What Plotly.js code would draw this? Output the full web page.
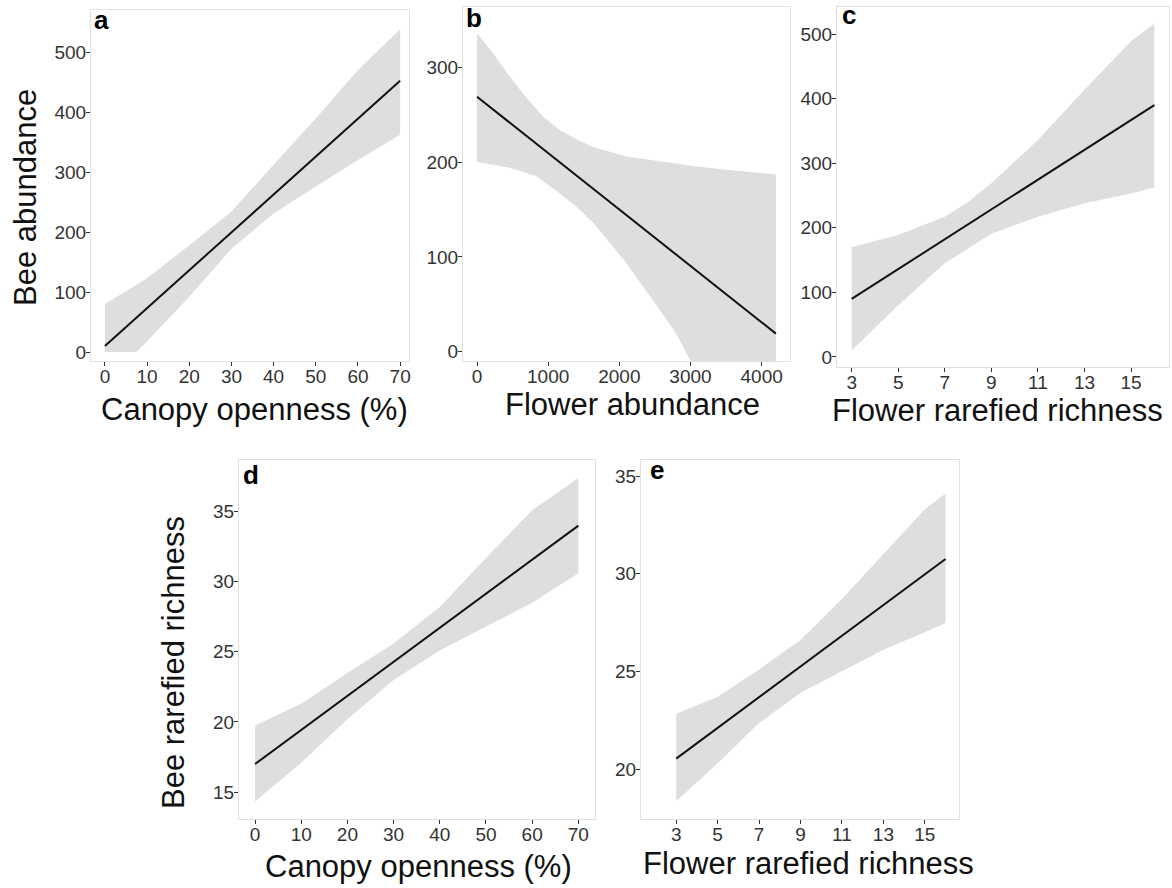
<!DOCTYPE html>
<html>
<head>
<meta charset="utf-8">
<script src="https://cdn.plot.ly/plotly-3.0.1.min.js"></script>
<style>
  html, body { margin: 0; padding: 0; background: #fff; }
  #chart { width: 1172px; height: 888px; }
</style>
</head>
<body>
<div id="chart"></div>
<script>
// Panel a: bee abundance vs canopy openness
const aLineX = [0, 70];
const aLineY = [10, 452];
const aUpperX = [0, 10, 20, 30, 40, 50, 60, 70];
const aUpper = [80, 123, 178, 234, 312, 389, 470, 538];
const aLowerX = [0, 7.5, 10, 20, 30, 40, 50, 60, 70];
const aLower = [0, 0, 18, 92, 172, 231, 276, 320, 362];

// Panel b: bee abundance vs flower abundance
const bLineX = [0, 4200];
const bLineY = [269, 19];
const bUpperX = [0, 225, 460, 695, 928, 1163, 1398, 1632, 2101, 2570, 3038, 3508, 4200];
const bUpper = [336, 315, 290, 268, 248, 234, 224, 216, 206, 201, 196, 192, 187];
const bLowerX = [0, 460, 835, 1163, 1398, 1632, 1867, 2101, 2336, 2570, 2805, 2945, 3500, 4200];
const bLower = [200, 194, 185, 167, 153, 136, 115, 93, 69, 44, 18, -2, -81, -181];

// Panel c: bee abundance vs flower rarefied richness
const cLineX = [3, 16];
const cLineY = [90, 390];
const cUpperX = [3, 5, 7, 8, 9, 11, 13, 15, 16];
const cUpper = [170, 189, 217, 240, 269, 336, 414, 489, 516];
const cLowerX = [3, 5, 7, 9, 11, 13, 15, 16];
const cLower = [10, 80, 145, 191, 217, 238, 253, 263];

// Panel d: bee rarefied richness vs canopy openness
const dLineX = [0, 70];
const dLineY = [17, 34];
const dUpperX = [0, 10, 20, 30, 40, 50, 60, 70];
const dUpper = [19.75, 21.3, 23.5, 25.6, 28.2, 31.7, 35.1, 37.4];
const dLowerX = [0, 10, 20, 30, 40, 50, 60, 70];
const dLower = [14.33, 17.1, 20.2, 23.0, 25.1, 26.8, 28.5, 30.6];

// Panel e: bee rarefied richness vs flower rarefied richness
const eLineX = [3, 16];
const eLineY = [20.53, 30.75];
const eUpperX = [3, 5, 7, 9, 11, 13, 15, 16];
const eUpper = [22.83, 23.7, 25.1, 26.6, 28.7, 31.0, 33.3, 34.1];
const eLowerX = [3, 5, 7, 9, 11, 13, 15, 16];
const eLower = [18.35, 20.3, 22.35, 23.9, 25.0, 26.1, 27.0, 27.47];

// Tick labels
const abundanceTicks = [0, 100, 200, 300, 400, 500];
const canopyTicks = [0, 10, 20, 30, 40, 50, 60, 70];
const flowerAbundTicks = [0, 1000, 2000, 3000, 4000];
const flowerAbundYTicks = [0, 100, 200, 300];
const richnessXTicks = [3, 5, 7, 9, 11, 13, 15];
const richnessYTicks = [15, 20, 25, 30, 35];
const richnessYTicksE = [20, 25, 30, 35];

// Text
const panelLetters = ['a', 'b', 'c', 'd', 'e'];
const xTitles = ['Canopy openness (%)', 'Flower abundance', 'Flower rarefied richness',
                 'Canopy openness (%)', 'Flower rarefied richness'];
const yTitles = ['Bee abundance', 'Bee rarefied richness'];

const W = 1172, H = 888;
const px = x => x / W;
const py = y => 1 - y / H;

// Plot frames in pixels: left, top, right, bottom
const frames = [
  [91, 10, 409, 361],
  [463, 7, 790, 361],
  [837, 7, 1169, 367],
  [239, 460, 595, 819],
  [641, 460, 959, 819]
];
const ranges = [
  { x: [-3.3, 72.1], y: [-15, 570], xt: canopyTicks, yt: abundanceTicks },
  { x: [-197, 4398], y: [-9.9, 363.7], xt: flowerAbundTicks, yt: flowerAbundYTicks },
  { x: [2.37, 16.63], y: [-15.5, 542], xt: richnessXTicks, yt: abundanceTicks },
  { x: [-3.47, 73.6], y: [13.08, 38.68], xt: canopyTicks, yt: richnessYTicks },
  { x: [1.3, 16.65], y: [17.44, 35.82], xt: richnessXTicks, yt: richnessYTicksE }
];

const panels = [
  [aLineX, aLineY, aUpperX, aUpper, aLowerX, aLower],
  [bLineX, bLineY, bUpperX, bUpper, bLowerX, bLower],
  [cLineX, cLineY, cUpperX, cUpper, cLowerX, cLower],
  [dLineX, dLineY, dUpperX, dUpper, dLowerX, dLower],
  [eLineX, eLineY, eUpperX, eUpper, eLowerX, eLower]
];

const FONT = 'Liberation Sans, Arial, sans-serif';
const traces = [];
const layout = {
  width: W, height: H,
  margin: { l: 0, r: 0, t: 0, b: 0 },
  paper_bgcolor: '#ffffff',
  plot_bgcolor: '#ffffff',
  showlegend: false,
  font: { family: FONT, color: '#333333' },
  annotations: []
};

panels.forEach((p, i) => {
  const [lx, ly, ux, uy, lox, loy] = p;
  const n = i === 0 ? '' : String(i + 1);
  const xa = 'x' + n, ya = 'y' + n;
  // confidence band as a closed polygon: upper edge then lower edge reversed
  traces.push({
    type: 'scatter', mode: 'lines', xaxis: xa, yaxis: ya,
    x: ux.concat(lox.slice().reverse()),
    y: uy.concat(loy.slice().reverse()),
    fill: 'toself', fillcolor: '#dedede',
    line: { width: 0, color: 'rgba(0,0,0,0)' },
    hoverinfo: 'skip'
  });
  traces.push({
    type: 'scatter', mode: 'lines', xaxis: xa, yaxis: ya,
    x: lx, y: ly,
    line: { color: '#111111', width: 2 }
  });

  const f = frames[i], r = ranges[i];
  const common = {
    showgrid: false, zeroline: false,
    showline: true, mirror: true, linecolor: '#e0e0e0', linewidth: 1,
    ticks: 'outside', ticklen: 4, tickwidth: 1, tickcolor: '#333333',
    tickfont: { family: FONT, size: 19, color: '#333333' },
    fixedrange: true
  };
  layout['xaxis' + n] = Object.assign({}, common, {
    domain: [px(f[0]), px(f[2])], range: r.x, anchor: ya,
    tickmode: 'array', tickvals: r.xt, ticktext: r.xt.map(String),
    ticklabelstandoff: -6
  });
  layout['yaxis' + n] = Object.assign({}, common, {
    domain: [py(f[3]), py(f[1])], range: r.y, anchor: xa,
    tickmode: 'array', tickvals: r.yt, ticktext: r.yt.map(String),
    ticklabelstandoff: -4
  });
});

// Panel letters
const letterPos = [[92, 3], [464, 1], [840, -2], [241, 458], [648, 453]];
panelLetters.forEach((t, i) => {
  layout.annotations.push({
    xref: 'paper', yref: 'paper', x: px(letterPos[i][0]), y: py(letterPos[i][1]),
    xanchor: 'left', yanchor: 'top', showarrow: false,
    text: '<b>' + t + '</b>',
    font: { family: FONT, size: 26, color: '#000000' }
  });
});

// Axis titles
const xTitlePos = [[254, 409], [632, 404], [997, 410], [418, 866], [808, 863]];
xTitles.forEach((t, i) => {
  layout.annotations.push({
    xref: 'paper', yref: 'paper', x: px(xTitlePos[i][0]), y: py(xTitlePos[i][1]),
    xanchor: 'center', yanchor: 'middle', showarrow: false, text: t,
    font: { family: FONT, size: 31, color: '#111111' }
  });
});
const yTitlePos = [[25, 198], [173, 663]];
yTitles.forEach((t, i) => {
  layout.annotations.push({
    xref: 'paper', yref: 'paper', x: px(yTitlePos[i][0]), y: py(yTitlePos[i][1]),
    xanchor: 'center', yanchor: 'middle', showarrow: false, text: t, textangle: -90,
    font: { family: FONT, size: 31, color: '#111111' }
  });
});

Plotly.newPlot('chart', traces, layout, { staticPlot: true, displayModeBar: false });
</script>
</body>
</html>
